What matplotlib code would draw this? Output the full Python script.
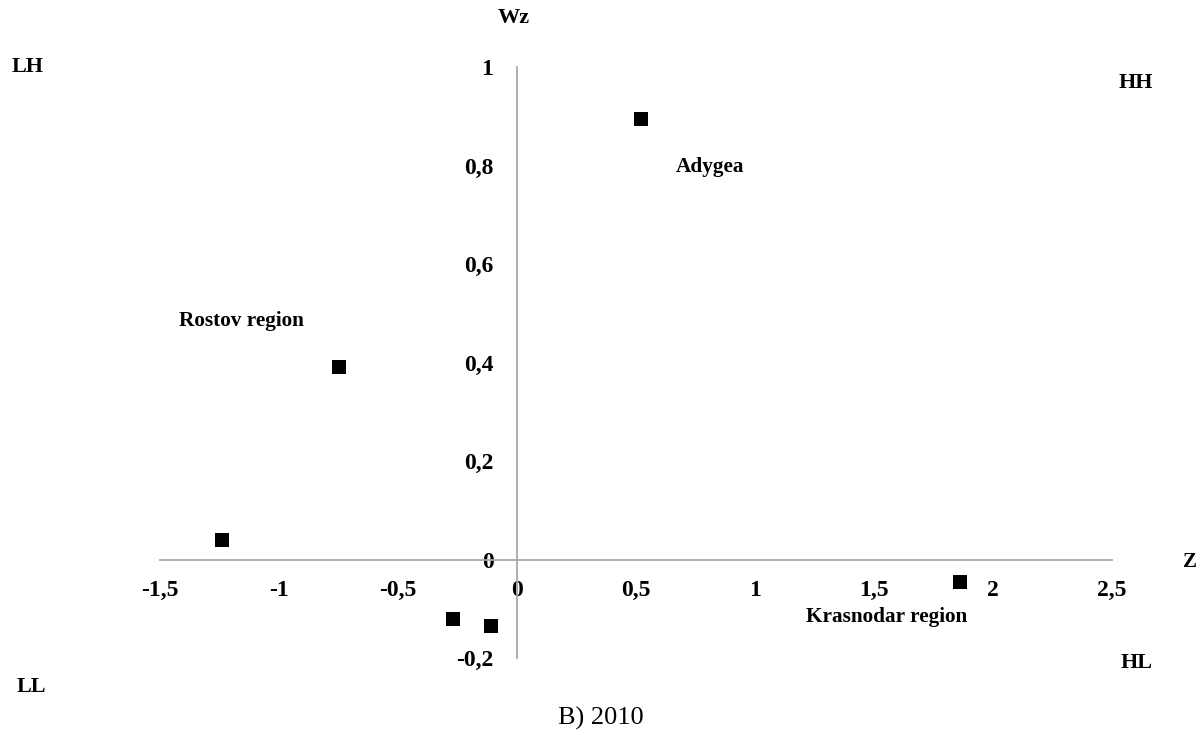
import matplotlib
matplotlib.use("Agg")
import matplotlib.pyplot as plt

# Data
z_values = [0.52, -0.75, -1.24, -0.27, -0.11, 1.86]
wz_values = [0.895, 0.39, 0.04, -0.12, -0.135, -0.045]
x_ticks = [-1.5, -1, -0.5, 0, 0.5, 1, 1.5, 2, 2.5]
x_tick_labels = ["-1,5", "-1", "-0,5", "0", "0,5", "1", "1,5", "2", "2,5"]
y_ticks = [-0.2, 0, 0.2, 0.4, 0.6, 0.8, 1]
y_tick_labels = ["-0,2", "0", "0,2", "0,4", "0,6", "0,8", "1"]
region_labels = ["Adygea", "Rostov region", "Krasnodar region"]
region_label_pos = [(0.81, 0.797, "center"), (-1.42, 0.484, "left"), (1.555, -0.117, "center")]

plt.rcParams['font.family'] = ['Liberation Serif', 'DejaVu Serif']

fig = plt.figure(figsize=(12.03, 7.37), dpi=100)
ax = fig.add_axes([0, 0, 1, 1])
# pixel mapping: x_px = 517 + 238*x ; y_px = 559.5 - 492.5*y
ax.set_xlim(-517 / 238, (1203 - 517) / 238)
ax.set_ylim((559.5 - 737) / 492.5, 559.5 / 492.5)

ax.scatter(z_values, wz_values, marker='s', s=100, color='black', zorder=3, linewidths=0)

for s in ['top', 'right']:
    ax.spines[s].set_visible(False)
ax.spines['left'].set_position(('data', 0))
ax.spines['bottom'].set_position(('data', 0))
ax.spines['left'].set_bounds(-0.2, 1.0)
ax.spines['bottom'].set_bounds(-1.5, 2.5)
for s in ['left', 'bottom']:
    ax.spines[s].set_color('#a8a8a8')
    ax.spines[s].set_linewidth(1.3)

ax.set_xticks(x_ticks)
ax.set_xticklabels(x_tick_labels, fontsize=17, fontweight='bold')
ax.set_yticks(y_ticks)
ax.set_yticklabels(y_tick_labels, fontsize=17, fontweight='bold')
ax.tick_params(axis='x', length=0, pad=15)
ax.tick_params(axis='y', length=0, pad=17)

for text, (x, y, ha) in zip(region_labels, region_label_pos):
    ax.text(x, y, text, fontsize=15.3, fontweight='bold', ha=ha, va='center')

W, H = 1203, 737
def ftext(px, py, s, **kw):
    fig.text(px / W, 1 - py / H, s, ha='center', va='center', **kw)

ftext(514, 18, "Wz", fontsize=16, fontweight='bold')
ftext(28, 67, "LH", fontsize=16, fontweight='bold')
ftext(1136, 83, "HH", fontsize=16, fontweight='bold')
ftext(1190, 562, "Z", fontsize=15, fontweight='bold')
ftext(31, 687, "LL", fontsize=16, fontweight='bold')
ftext(1137, 663, "HL", fontsize=16, fontweight='bold')
ftext(601, 718, "B) 2010", fontsize=19)

fig.savefig("out.png", dpi=100)
